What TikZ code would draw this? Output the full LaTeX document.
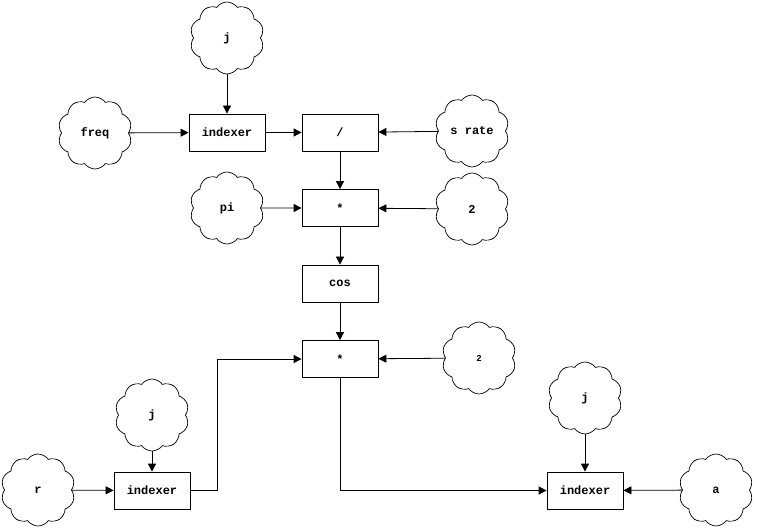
\documentclass[tikz,border=0pt]{standalone}
\usepackage{fontspec}
\setmainfont{Liberation Mono}
\usetikzlibrary{shapes.symbols,arrows.meta}
\begin{document}
\begin{tikzpicture}[x=1pt,y=-1pt,
  opbox/.style={draw,line width=0.8pt,minimum width=76pt,minimum height=37pt,inner sep=0pt,font=\fontsize{12}{14}\selectfont\bfseries},
  src/.style={draw,cloud,cloud puffs=10,cloud puff arc=110,aspect=1,minimum width=74pt,minimum height=72pt,inner sep=0pt,line width=0.7pt,font=\fontsize{12}{14}\selectfont\bfseries},
  conn/.style={line width=0.8pt,-{Triangle[length=8pt,width=8pt]}}]
\useasboundingbox (0,0) rectangle (757,529);
% boxes
\node[opbox] (ix1) at (227,132.5) {indexer};
\node[opbox] (div) at (340,132.5) {/};
\node[opbox] (mul1) at (340,208) {*};
\node[opbox] (cos) at (340,283.5) {cos};
\node[opbox] (mul2) at (340,359) {*};
\node[opbox] (ix2) at (152,490.5) {indexer};
\node[opbox] (ix3) at (585,490.5) {indexer};
% clouds
\node[src] (j1) at (227,38) {j};
\node[src] (freq) at (95,133) {freq};
\node[src] (srate) at (472,131) {s rate};
\node[src] (pi) at (227,208) {pi};
\node[src] (two1) at (472,209) {2};
\node[src,font=\fontsize{9}{11}\selectfont\bfseries] (two2) at (479,358) {2};
\node[src] (j2) at (152,415) {j};
\node[src] (r) at (38,490) {r};
\node[src] (j3) at (585,398) {j};
\node[src] (a) at (716,490) {a};
% connectors
\draw[conn] (j1) -- (ix1);
\draw[conn] (freq) -- (ix1);
\draw[conn] (ix1) -- (div);
\draw[conn] (srate) -- (div);
\draw[conn] (div) -- (mul1);
\draw[conn] (pi) -- (mul1);
\draw[conn] (two1) -- (mul1);
\draw[conn] (mul1) -- (cos);
\draw[conn] (cos) -- (mul2);
\draw[conn] (two2) -- (mul2);
\draw[conn] (j2) -- (ix2);
\draw[conn] (r) -- (ix2);
\draw[conn] (ix2.east) -| (217,359) -- (mul2.west);
\draw[conn] (mul2.south) |- (ix3.west);
\draw[conn] (j3) -- (ix3);
\draw[conn] (a) -- (ix3);
\end{tikzpicture}
\end{document}
